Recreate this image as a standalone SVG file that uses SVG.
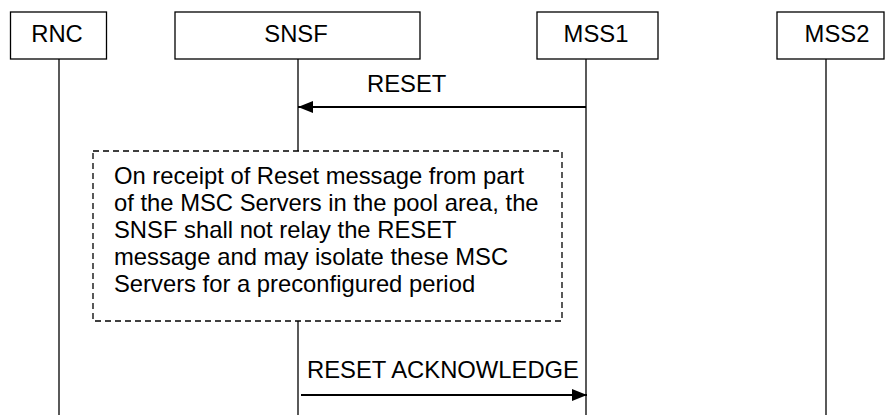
<svg xmlns="http://www.w3.org/2000/svg" width="885" height="415" viewBox="0 0 885 415">
<style>
.box{fill:#fff;stroke:#000;stroke-width:1.3}
.life{stroke:#000;stroke-width:1.3;fill:none}
.msg{stroke:#000;stroke-width:2;fill:none}
.note{fill:#fff;stroke:#000;stroke-width:1.3;stroke-dasharray:6,4}
text{font-family:"Liberation Sans",Arial,sans-serif;font-size:23.8px;fill:#000}
.c{text-anchor:middle}
</style>
<defs>
<marker id="ah" markerWidth="15" markerHeight="12" refX="15" refY="6" orient="auto" markerUnits="userSpaceOnUse">
<path d="M0,0 L15,6 L0,12 Z" fill="#000"/>
</marker>
</defs>
<g id="lifelines">
<line class="life" x1="59" y1="59" x2="59" y2="415"/>
<line class="life" x1="298" y1="59" x2="298" y2="151"/>
<line class="life" x1="298" y1="321" x2="298" y2="415"/>
<line class="life" x1="586" y1="59" x2="586" y2="415"/>
<line class="life" x1="826" y1="59" x2="826" y2="415"/>
</g>
<g id="RNC"><rect class="box" x="10.5" y="12" width="96" height="47"/><text class="c" x="57" y="42">RNC</text></g>
<g id="SNSF"><rect class="box" x="175" y="12" width="245" height="47"/><text class="c" x="296" y="42">SNSF</text></g>
<g id="MSS1"><rect class="box" x="537" y="12" width="121" height="47"/><text class="c" x="596" y="42">MSS1</text></g>
<g id="MSS2"><rect class="box" x="777" y="12" width="107" height="47"/><text class="c" x="837" y="42">MSS2</text></g>
<g id="note">
<rect class="note" x="93" y="151" width="469" height="170"/>
<text x="114"><tspan x="114" y="183.5">On receipt of Reset message from part</tspan><tspan x="114" y="210.5">of the MSC Servers in the pool area, the</tspan><tspan x="114" y="237.5">SNSF shall not relay the RESET</tspan><tspan x="114" y="264.5">message and may isolate these MSC</tspan><tspan x="114" y="291.5">Servers for a preconfigured period</tspan></text>
</g>
<g id="connectors">
<line class="msg" x1="586" y1="107" x2="298" y2="107" marker-end="url(#ah)"/>
<text x="367" y="91.5">RESET</text>
<line class="msg" x1="301" y1="395" x2="587" y2="395" marker-end="url(#ah)"/>
<text x="307" y="377.5">RESET ACKNOWLEDGE</text>
</g>
</svg>
